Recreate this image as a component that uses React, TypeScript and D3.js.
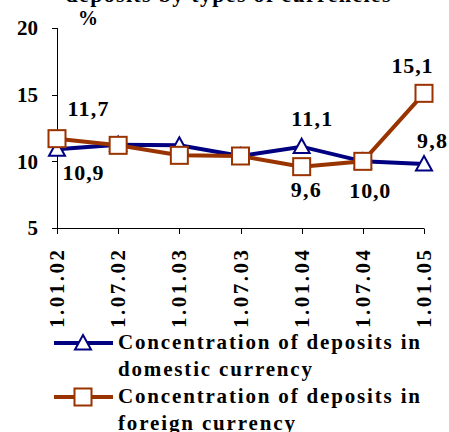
import React from "react";
import * as d3 from "d3";

const categories = ["1.01.02", "1.07.02", "1.01.03", "1.07.03", "1.01.04", "1.07.04", "1.01.05"];
const domestic = [10.9, 11.25, 11.2, 10.4, 11.1, 10.0, 9.8];
const foreign = [11.7, 11.2, 10.45, 10.4, 9.6, 10.0, 15.1];
const yTicks = [5, 10, 15, 20];
const domesticLabels = [
  { i: 0, text: "10,9", dx: 26, dy: 23 },
  { i: 4, text: "11,1", dx: 10, dy: -28 },
  { i: 6, text: "9,8", dx: 8, dy: -24 },
];
const foreignLabels = [
  { i: 0, text: "11,7", dx: 31, dy: -30 },
  { i: 4, text: "9,6", dx: 4, dy: 23 },
  { i: 5, text: "10,0", dx: 7, dy: 29 },
  { i: 6, text: "15,1", dx: -12, dy: -28 },
];
const legendItems = [
  { lines: ["Concentration of deposits in", "domestic currency"], key: "d" },
  { lines: ["Concentration of deposits in", "foreign currency"], key: "f" },
];

const NAVY = "#000080";
const BROWN = "#993300";
const FONT = "Liberation Serif";

function Triangle({ x, y }: { x: number; y: number }) {
  const s = 8;
  return (
    <path
      d={`M${x},${y - s} L${x + s},${y + s * 0.8} L${x - s},${y + s * 0.8} Z`}
      fill="white"
      stroke={NAVY}
      strokeWidth={2}
    />
  );
}
function Square({ x, y }: { x: number; y: number }) {
  const s = 8.5;
  return <rect x={x - s} y={y - s} width={2 * s} height={2 * s} fill="white" stroke={BROWN} strokeWidth={2} />;
}

export default function App() {
  const x = d3.scalePoint<string>().domain(categories).range([57, 424]);
  const y = d3.scaleLinear().domain([5, 20]).range([228, 28]);
  const line = d3
    .line<number>()
    .x((_, i) => x(categories[i])!)
    .y((d) => y(d));
  const ts: React.CSSProperties = { fontFamily: FONT, fontWeight: "bold" };
  const labelLen = (t: string) => (t.length === 4 ? 41 : 30);

  return (
    <svg width={449} height={432} style={{ position: "absolute", left: 0, top: 0 }}>
      <text x={228} y={2} textAnchor="middle" fontSize={22} style={ts} fill="#000" textLength={325} lengthAdjust="spacing">
        deposits by types of currencies
      </text>
      <text x={88} y={25} textAnchor="middle" fontSize={20} style={ts}>%</text>

      {/* y axis */}
      <line x1={57.5} x2={57.5} y1={y(20)} y2={y(5)} stroke="#000" />
      {yTicks.map((t) => (
        <g key={t}>
          <line x1={52} x2={57.5} y1={Math.round(y(t)) + 0.5} y2={Math.round(y(t)) + 0.5} stroke="#000" />
          <text x={38} y={y(t)} dy="0.35em" textAnchor="end" fontSize={21} style={ts}>{t}</text>
        </g>
      ))}
      {/* x axis */}
      <line x1={52} x2={424} y1={228.5} y2={228.5} stroke="#000" />
      {categories.map((c) => (
        <g key={c}>
          <line x1={Math.round(x(c)!) + 0.5} x2={Math.round(x(c)!) + 0.5} y1={228.5} y2={234} stroke="#000" />
          <text
            transform={`translate(${x(c)},250) rotate(-90)`}
            textAnchor="end"
            dominantBaseline="central"
            fontSize={21}
            style={ts}
            textLength={78}
            lengthAdjust="spacing"
          >
            {c}
          </text>
        </g>
      ))}

      <path d={line(domestic)!} fill="none" stroke={NAVY} strokeWidth={4} />
      <path d={line(foreign)!} fill="none" stroke={BROWN} strokeWidth={4} />
      {domestic.map((v, i) => (
        <Triangle key={"t" + i} x={x(categories[i])!} y={y(v)} />
      ))}
      {foreign.map((v, i) => (
        <Square key={"s" + i} x={x(categories[i])!} y={y(v)} />
      ))}

      {domesticLabels.map((l) => (
        <text key={"dl" + l.i} x={x(categories[l.i])! + l.dx} y={y(domestic[l.i]) + l.dy} dy="0.35em" textAnchor="middle" fontSize={22} style={ts} textLength={labelLen(l.text)} lengthAdjust="spacing">
          {l.text}
        </text>
      ))}
      {foreignLabels.map((l) => (
        <text key={"fl" + l.i} x={x(categories[l.i])! + l.dx} y={y(foreign[l.i]) + l.dy} dy="0.35em" textAnchor="middle" fontSize={22} style={ts} textLength={labelLen(l.text)} lengthAdjust="spacing">
          {l.text}
        </text>
      ))}

      {legendItems.map((item, k) => {
        const ly = 343 + k * 54;
        const color = item.key === "d" ? NAVY : BROWN;
        return (
          <g key={item.key}>
            <line x1={54} x2={113} y1={ly} y2={ly} stroke={color} strokeWidth={4} />
            {item.key === "d" ? <Triangle x={83} y={ly} /> : <Square x={83} y={ly} />}
            <text x={118} y={ly + 6} fontSize={21} style={ts} textLength={302} lengthAdjust="spacing">
              {item.lines[0]}
            </text>
            <text
              x={118}
              y={ly + 33}
              fontSize={21}
              style={ts}
              textLength={item.key === "d" ? 194 : 177}
              lengthAdjust="spacing"
            >
              {item.lines[1]}
            </text>
          </g>
        );
      })}
    </svg>
  );
}
